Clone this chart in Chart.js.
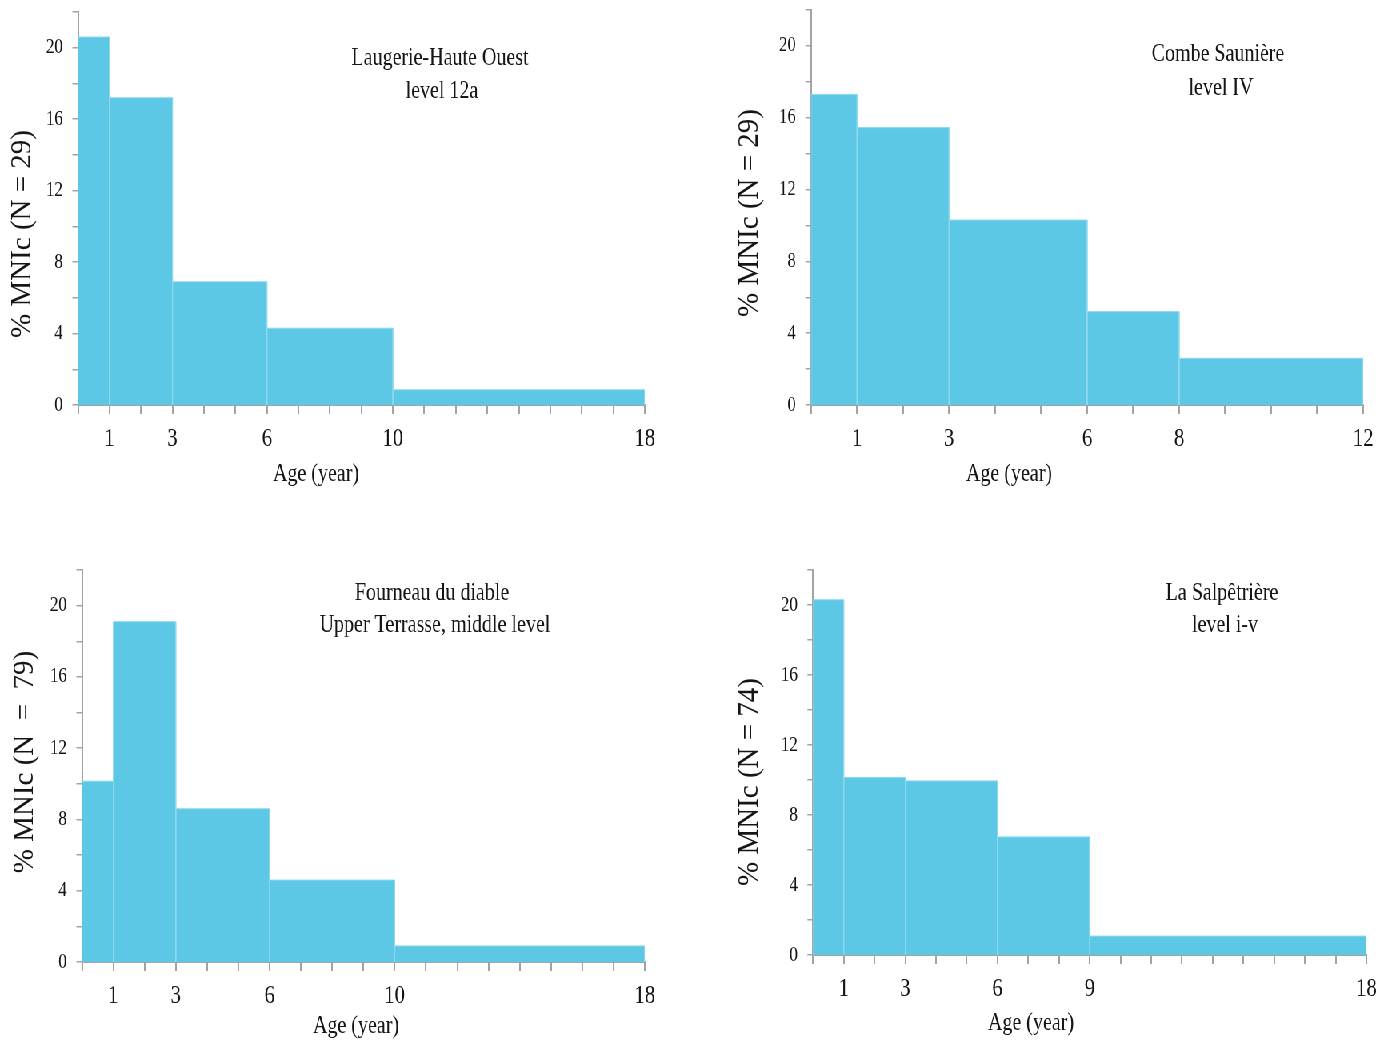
<!DOCTYPE html>
<html>
<head>
<meta charset="utf-8">
<script src="https://cdn.jsdelivr.net/npm/chart.js@4.4.1/dist/chart.umd.min.js"></script>
<style>
  html, body { margin: 0; padding: 0; background: #fff; }
  body { width: 1395px; height: 1040px; overflow: hidden; position: relative; }
  /* the source figure uses narrow type, so the whole sheet is drawn wide and squeezed */
  #sheet { position: absolute; left: 0; top: 0; width: 1744px; height: 1040px;
           transform: scaleX(0.8); transform-origin: 0 0; }
  #sheet canvas { position: absolute; }
</style>
</head>
<body>
<div id="sheet">
  <canvas id="laugerie"></canvas>
  <canvas id="combe"></canvas>
  <canvas id="fourneau"></canvas>
  <canvas id="salpetriere"></canvas>
</div>
<script>
const K = 0.8;                       // horizontal squeeze of the sheet
const SERIF = '"Liberation Serif", "Times New Roman", serif';
const BAR = '#5cc8e6';
const BAR_EDGE = '#8fd8ee';
const AXIS = '#a3a3a3';
const INK = '#151515';

// ── Data: bin edges (age, years) and % MNIc per year of bin ─────
const edgesLaugerie = [0, 1, 3, 6, 10, 18];
const pctLaugerie   = [20.6, 17.2, 6.9, 4.3, 0.85];
const agesLaugerie  = [1, 3, 6, 10, 18];

const edgesCombe = [0, 1, 3, 6, 8, 12];
const pctCombe   = [17.3, 15.45, 10.3, 5.2, 2.6];
const agesCombe  = [1, 3, 6, 8, 12];

const edgesFourneau = [0, 1, 3, 6, 10, 18];
const pctFourneau   = [10.15, 19.1, 8.6, 4.6, 0.9];
const agesFourneau  = [1, 3, 6, 10, 18];

const edgesSalpe = [0, 1, 3, 6, 9, 18];
const pctSalpe   = [20.3, 10.15, 9.95, 6.75, 1.08];
const agesSalpe  = [1, 3, 6, 9, 18];

const yTickLabels = [0, 4, 8, 12, 16, 20];
const Y_MAX = 22;

// ── Free text drawn on each panel (page coords, squeezed px) ────
const panelText = {
  id: 'panelText',
  afterDraw(chart, args, o) {
    const ctx = chart.ctx;
    const rx = x => x / K - o.left;
    const ry = y => y - o.top;
    ctx.save();
    ctx.fillStyle = INK;
    ctx.textAlign = 'center';
    ctx.textBaseline = 'alphabetic';
    ctx.font = '25px ' + SERIF;
    o.title.forEach(t => ctx.fillText(t.text, rx(t.x), ry(t.y)));
    ctx.fillText('Age (year)', rx(o.xTitle.x), ry(o.xTitle.y));
    // rotated label keeps normal proportions
    ctx.translate(rx(o.yTitle.x), ry(o.yTitle.y));
    ctx.scale(1 / K, 1);
    ctx.rotate(-Math.PI / 2);
    ctx.textBaseline = 'middle';
    ctx.font = '29px ' + SERIF;
    ctx.fillText(o.yTitle.text, 0, 0);
    ctx.restore();
  }
};

function drawPanel(id, edges, pct, ages, box, text) {
  const canvas = document.getElementById(id);
  canvas.width = box.w;
  canvas.height = box.h;
  canvas.style.left = box.left + 'px';
  canvas.style.top = box.top + 'px';
  canvas.style.width = box.w + 'px';
  canvas.style.height = box.h + 'px';

  // one filled outline per age class
  const datasets = pct.map((v, i) => ({
    data: [
      { x: edges[i], y: 0 }, { x: edges[i], y: v },
      { x: edges[i + 1], y: v }, { x: edges[i + 1], y: 0 }
    ],
    backgroundColor: BAR,
    borderColor: BAR_EDGE,
    borderWidth: 1,
    fill: 'origin',
    pointRadius: 0,
    tension: 0
  }));

  new Chart(canvas, {
    type: 'line',
    data: { datasets },
    options: {
      responsive: false,
      animation: false,
      events: [],
      layout: { padding: { left: 0, top: box.pt, right: 30, bottom: 0 } },
      plugins: {
        legend: { display: false },
        tooltip: { enabled: false },
        panelText: Object.assign({ left: box.left, top: box.top }, text)
      },
      scales: {
        x: {
          type: 'linear', min: 0, max: edges[edges.length - 1], z: 1,
          afterFit: s => { s.height = box.xa; },
          border: { color: AXIS, width: 2 },
          grid: { drawOnChartArea: false, tickLength: 9, color: AXIS, lineWidth: 2 },
          ticks: {
            stepSize: 1, autoSkip: false, maxRotation: 0, padding: 10, color: INK,
            font: { family: SERIF, size: 26 },
            callback: v => ages.includes(v) ? String(v) : ''
          }
        },
        y: {
          min: 0, max: Y_MAX, z: 1,
          afterFit: s => { s.width = box.ya; },
          border: { color: AXIS, width: 2 },
          grid: { drawOnChartArea: false, tickLength: 7, color: AXIS, lineWidth: 1.5 },
          ticks: {
            stepSize: 2, padding: 12, color: INK,
            font: { family: SERIF, size: 21 },
            callback: v => yTickLabels.includes(v) ? String(v) : ''
          }
        }
      }
    },
    plugins: [panelText]
  });
}

drawPanel('laugerie', edgesLaugerie, pctLaugerie, agesLaugerie,
  { left: 0, top: -40, w: 836, h: 535, pt: 52, ya: 97.5, xa: 90 },
  { title: [{ text: 'Laugerie-Haute Ouest', x: 440, y: 65 }, { text: 'level 12a', x: 442, y: 98 }],
    xTitle: { x: 316, y: 481 }, yTitle: { text: '% MNIc (N = 29)', x: 23, y: 234 } });

drawPanel('combe', edgesCombe, pctCombe, agesCombe,
  { left: 916, top: -40, w: 818, h: 535, pt: 50, ya: 97.75, xa: 90 },
  { title: [{ text: 'Combe Saunière', x: 1218, y: 61 }, { text: 'level IV', x: 1221, y: 95 }],
    xTitle: { x: 1009, y: 481 }, yTitle: { text: '% MNIc (N = 29)', x: 750, y: 213 } });

drawPanel('fourneau', edgesFourneau, pctFourneau, agesFourneau,
  { left: 0, top: 520, w: 836, h: 520, pt: 50, ya: 102.5, xa: 78 },
  { title: [{ text: 'Fourneau du diable', x: 432, y: 600 }, { text: 'Upper Terrasse, middle level', x: 435, y: 632 }],
    xTitle: { x: 356, y: 1033 }, yTitle: { text: '% MNIc (N  =  79)', x: 25, y: 762 } });

drawPanel('salpetriere', edgesSalpe, pctSalpe, agesSalpe,
  { left: 919, top: 520, w: 819, h: 520, pt: 50, ya: 97.25, xa: 85 },
  { title: [{ text: 'La Salpêtrière', x: 1222, y: 600 }, { text: 'level i-v', x: 1225, y: 632 }],
    xTitle: { x: 1031, y: 1030 }, yTitle: { text: '% MNIc (N = 74)', x: 750, y: 782 } });
</script>
</body>
</html>
